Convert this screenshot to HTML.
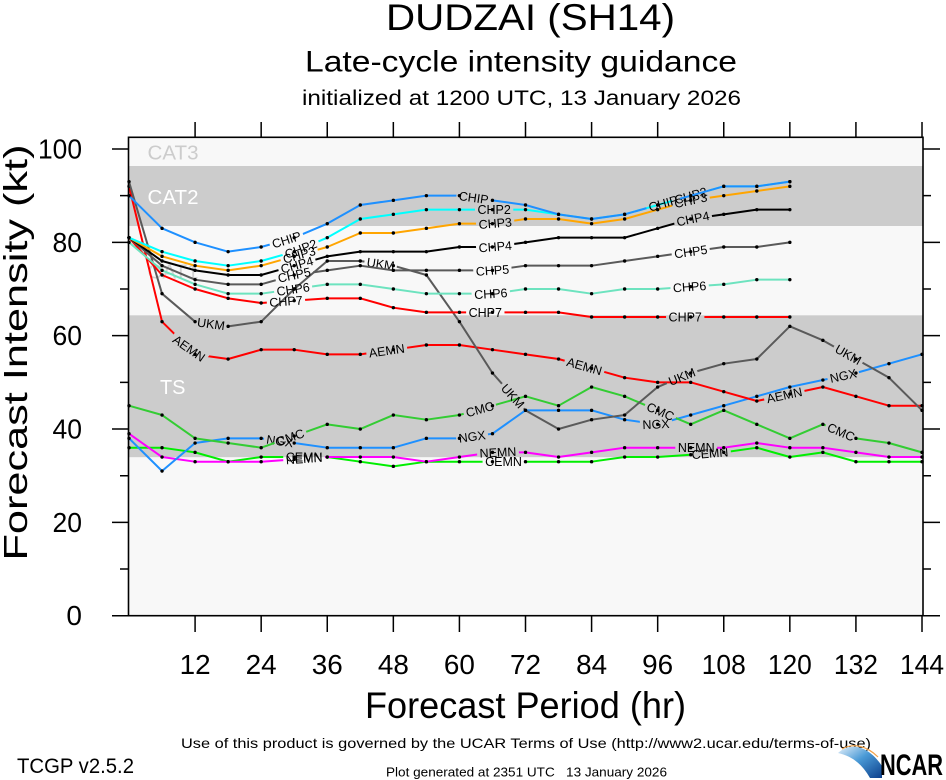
<!DOCTYPE html>
<html>
<head>
<meta charset="utf-8">
<style>
html,body{margin:0;padding:0;background:#fff;}
svg{display:block;}
text{font-family:"Liberation Sans",Arial,sans-serif;}
</style>
</head>
<body>
<svg id="s" width="946" height="780" viewBox="0 0 946 780" xmlns="http://www.w3.org/2000/svg">
<defs id="defs"></defs>
<rect x="0" y="0" width="946" height="780" fill="#ffffff"/>
<!-- intensity bands -->
<rect x="129" y="137.5" width="794" height="28.5" fill="#f8f8f8"/>
<rect x="129" y="166" width="794" height="60" fill="#cccccc"/>
<rect x="129" y="226" width="794" height="89.3" fill="#f8f8f8"/>
<rect x="129" y="315.3" width="794" height="142" fill="#cccccc"/>
<rect x="129" y="457.3" width="794" height="158.4" fill="#f8f8f8"/>
<text x="147.5" y="159.5" font-size="20" fill="#cccccc" textLength="51" lengthAdjust="spacingAndGlyphs">CAT3</text>
<text x="147.5" y="204" font-size="20" fill="#ffffff" textLength="51" lengthAdjust="spacingAndGlyphs">CAT2</text>
<text x="147.5" y="278.5" font-size="20" fill="#d0d0d0" textLength="51" lengthAdjust="spacingAndGlyphs">CAT1</text>
<text x="160" y="394" font-size="20" fill="#ffffff" textLength="25.5" lengthAdjust="spacingAndGlyphs">TS</text>

<g id="plot"></g>

<!-- frame -->
<rect x="128.5" y="137.3" width="794.5" height="478.4" fill="none" stroke="#000" stroke-width="1.6"/>
<g stroke="#000" stroke-width="1.5" id="ticks"></g>

<!-- titles -->
<text x="386" y="30" font-size="37" textLength="289" lengthAdjust="spacingAndGlyphs">DUDZAI (SH14)</text>
<text x="305" y="71.5" font-size="30" textLength="432" lengthAdjust="spacingAndGlyphs">Late-cycle intensity guidance</text>
<text x="302" y="105" font-size="21" textLength="439" lengthAdjust="spacingAndGlyphs">initialized at 1200 UTC, 13 January 2026</text>

<g id="ylabels" font-size="28" text-anchor="end"></g>
<g id="xlabels" font-size="28" text-anchor="middle"></g>

<text transform="translate(27,352.5) rotate(-90)" x="0" y="0" font-size="33" text-anchor="middle" textLength="416" lengthAdjust="spacingAndGlyphs">Forecast Intensity (kt)</text>
<text x="365" y="718" font-size="37" textLength="321" lengthAdjust="spacingAndGlyphs">Forecast Period (hr)</text>

<text x="181" y="748" font-size="14" textLength="690" lengthAdjust="spacingAndGlyphs">Use of this product is governed by the UCAR Terms of Use (http://www2.ucar.edu/terms-of-use)</text>
<text x="17" y="773" font-size="21" textLength="117" lengthAdjust="spacingAndGlyphs">TCGP v2.5.2</text>
<text x="386" y="776.5" font-size="12.5" textLength="281" lengthAdjust="spacingAndGlyphs" style="white-space:pre">Plot generated at 2351 UTC   13 January 2026</text>

<!-- NCAR logo -->
<defs>
<linearGradient id="sw" x1="0" y1="0" x2="1" y2="1">
<stop offset="0" stop-color="#e4f0fa"/>
<stop offset="0.45" stop-color="#4a9ad6"/>
<stop offset="1" stop-color="#0b3f8c"/>
</linearGradient>
</defs>
<path d="M838,753 C850,742 868,745 882,766 L882,778 L870,778 C862,764 852,756 838,753 Z" fill="url(#sw)"/>
<path d="M842,749 C852,743 866,745 878,757" fill="none" stroke="#f2a24a" stroke-width="1.2"/>
<text x="880" y="775" font-size="30" font-weight="bold" textLength="63" lengthAdjust="spacingAndGlyphs">NCAR</text>
</svg>

<script>
(function(){
var NS='http://www.w3.org/2000/svg';
function X(t){return 129+5.507*t;}
function Y(v){return 615.7-4.667*v;}
function el(tag,attrs,parent){var e=document.createElementNS(NS,tag);for(var k in attrs)e.setAttribute(k,attrs[k]);if(parent)parent.appendChild(e);return e;}

// ticks
var tk=document.getElementById('ticks');
var d='';
for(var t=12;t<=144;t+=12){var x=X(t);d+='M'+x+',122V137.3M'+x+',615.7V632';}
for(var v=0;v<=100;v+=10){var y=Y(v);var maj=(v%20===0);d+='M'+(maj?112:120)+','+y+'H128.5M923,'+y+'H'+(maj?940:931);}
el('path',{d:d,fill:'none'},tk);

// y labels
var yl=document.getElementById('ylabels');
for(var v=0;v<=100;v+=20){var tx=el('text',{x:82,y:Y(v)+9.5},yl);tx.textContent=String(v);
 var n=String(v).length; if(n>1){tx.setAttribute('textLength',n===3?44:29.5);tx.setAttribute('lengthAdjust','spacingAndGlyphs');}}
// x labels
var xl=document.getElementById('xlabels');
for(var t=12;t<=144;t+=12){var tx=el('text',{x:X(t),y:674,textLength:(t>=100?44:31),lengthAdjust:'spacingAndGlyphs'},xl);tx.textContent=String(t);}

var S=[
 {n:'CEMN',c:'#00ee00',v:[36,36,35,33,34,34,34,33,32,33,33,33,33,33,33,34,34,34.5,35,36,34,35,33,33,33],L:[31.8,68,105.5]},
 {n:'NEMN',c:'#ff00ff',v:[39,34,33,33,33,33.5,34,34,34,33,34,35,35,34,35,36,36,36,36,37,36,36,35,34,34],L:[31.8,67,103]},
 {n:'NGX',c:'#1e90ff',v:[38,31,37,38,38,37,36,36,36,38,38,39,44,44,44,42,41,43,45,47,49,50.5,52,54,56],L:[27.4,62.3,95.7,129.7]},
 {n:'CMC',c:'#33cc33',v:[45,43,38,37,36,38.5,41,40,43,42,43,45,47,45,49,47,44,41,44,41,38,41,38,37,35],L:[29.3,63.7,96.5,129.3]},
 {n:'AEMN',c:'#ff0000',v:[92,63,56,55,57,57,56,56,57,58,58,57,56,55,53,51,50,50,48,46,47.5,49,47,45,45],L:[10.9,46.8,82.7,119]},
 {n:'UKM',c:'#5a5a5a',v:[93,69,63,62,63,70,76,76,75,73,63,52,44,40,42,43,49,52,54,55,62,59,55,51,44],L:[14.9,45.7,69.7,100.4,130.6]},
 {n:'CHP7',c:'#ff0000',v:[81,73,70,68,67,67.5,68,68,66,65,65,65,65,65,64,64,64,64,64,64,64],L:[28.5,64.7,101]},
 {n:'CHP6',c:'#6de3bf',v:[80,74,71,69,69,70,71,71,70,69,69,69,70,70,69,70,70,70.5,71,72,72],L:[29.8,65.7,101.8]},
 {n:'CHP5',c:'#5a5a5a',v:[81,75,72,71,71,73,74,75,74,74,74,74,75,75,75,76,77,78,79,79,80],L:[30,66,102]},
 {n:'CHP4',c:'#000000',v:[81,76,74,73,73,75,77,78,78,78,79,79,80,81,81,81,83,85,86,87,87],L:[30.5,66.5,102.4]},
 {n:'CHP3',c:'#ffa500',v:[81,77,75,74,75,77,79,82,82,83,84,84,85,85,84,85,87,89,90,91,92],L:[30.9,66.5,102]},
 {n:'CHP2',c:'#00ffff',v:[81,78,76,75,76,78,81,85,86,87,87,87,87,86,85,86,88,90,92,92,93],L:[31.2,66.3,102]},
 {n:'CHIP',c:'#1e90ff',v:[90,83,80,78,79,81,84,88,89,90,90,89,88,86,85,86,88,90,92,92,93],L:[28.6,62.6,97]}
];

var defs=document.getElementById('defs');
var g=document.getElementById('plot');
S.forEach(function(s,si){
 var pts=s.v.map(function(v,i){return [X(6*i),Y(v)];});
 function yAt(x){
  if(x<=pts[0][0])return pts[0][1];
  for(var i=1;i<pts.length;i++){if(x<=pts[i][0]){var a=pts[i-1],b=pts[i];return a[1]+(b[1]-a[1])*(x-a[0])/(b[0]-a[0]);}}
  return pts[pts.length-1][1];
 }
 var sg=el('g',{},g);
 var mask=el('mask',{id:'m'+si,maskUnits:'userSpaceOnUse',x:0,y:0,width:946,height:780},defs);
 el('rect',{x:0,y:0,width:946,height:780,fill:'#fff'},mask);
 el('polyline',{points:pts.map(function(p){return p[0].toFixed(2)+','+p[1].toFixed(2);}).join(' '),fill:'none',stroke:s.c,'stroke-width':2,'stroke-linejoin':'round',mask:'url(#m'+si+')'},sg);
 s.L.forEach(function(t){
  var xc=X(t);
  var txt=el('text',{x:0,y:4.4,'font-size':12.5,'text-anchor':'middle',fill:'#000'},sg);
  txt.textContent=s.n;
  var w=0;try{w=txt.getComputedTextLength();}catch(e){}
  if(!w||!isFinite(w))w=s.n.length*8.2;
  var y1=yAt(xc-w/2),y2=yAt(xc+w/2);
  var a=Math.atan2(y2-y1,w)*180/Math.PI;
  var yc=yAt(xc);
  var tr='translate('+xc.toFixed(2)+','+yc.toFixed(2)+') rotate('+a.toFixed(2)+')';
  txt.setAttribute('transform',tr);
  el('rect',{x:(-w/2-2.5).toFixed(2),y:-6.5,width:(w+5).toFixed(2),height:13,fill:'#000',transform:tr},mask);
 });
 pts.forEach(function(p){el('circle',{cx:p[0].toFixed(2),cy:p[1].toFixed(2),r:1.7,fill:'#000'},sg);});
});
})();
</script>
</body>
</html>
